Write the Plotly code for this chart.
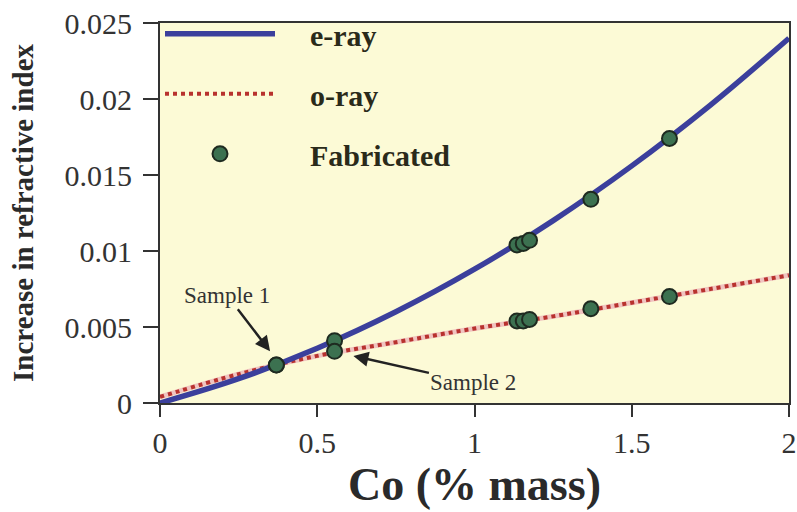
import plotly.graph_objects as go

# Data
curve_x = [0, 0.25, 0.5, 0.75, 1.0, 1.25, 1.5, 1.75, 2.0]
eray_y = [0, 0.0016, 0.0036, 0.0060, 0.0088, 0.0120, 0.0156, 0.0196, 0.0240]
oray_y = [0.0004, 0.0019, 0.0031, 0.0040, 0.0049, 0.0057, 0.0066, 0.0075, 0.0084]

fab_x = [0.37, 0.555, 1.135, 1.155, 1.175, 1.37, 1.62]
fab_e = [0.0025, 0.0041, 0.0104, 0.0105, 0.0107, 0.0134, 0.0174]
fab_o = [0.0025, 0.0034, 0.0054, 0.0054, 0.0055, 0.0062, 0.0070]

x_ticks = [0, 0.5, 1, 1.5, 2]
x_tick_labels = ["0", "0.5", "1", "1.5", "2"]
y_ticks = [0, 0.005, 0.01, 0.015, 0.02, 0.025]
y_tick_labels = ["0", "0.005", "0.01", "0.015", "0.02", "0.025"]

SERIF = "Liberation Serif"
PAD = "\u00a0\u00a0\u00a0\u00a0"

fig = go.Figure()

# o-ray background (light pink) for the hatched look
fig.add_trace(go.Scatter(x=curve_x, y=oray_y, mode="lines", line=dict(color="#f0c4c0", width=5, shape="spline"),
                         showlegend=False, hoverinfo="skip"))
fig.add_trace(go.Scatter(x=curve_x, y=oray_y, mode="lines", name=PAD + "o-ray",
                         line=dict(color="#b8322e", width=4, dash="dot", shape="spline"),
                         legendrank=2, legendgroup="o"))
fig.add_trace(go.Scatter(x=curve_x, y=eray_y, mode="lines", name=PAD + "e-ray",
                         line=dict(color="#3b3f9c", width=5.5, shape="spline"),
                         legendrank=1, legendgroup="e"))
fig.add_trace(go.Scatter(x=fab_x + fab_x, y=fab_e + fab_o, mode="markers", name=PAD + "Fabricated",
                         marker=dict(color="#3c7150", size=15, line=dict(color="#1e2a20", width=2)),
                         legendrank=3, legendgroup="f"))

fig.update_layout(
    width=797, height=512,
    margin=dict(l=160, r=8, t=16, b=109),
    paper_bgcolor="white",
    plot_bgcolor="#fcfad6",
    font=dict(family=SERIF, color="#333333"),
    legend=dict(x=0.0, y=1.04, xanchor="left", yanchor="top", bgcolor="rgba(0,0,0,0)",
                font=dict(family=SERIF, size=30, color="#2a2a1a", weight="bold"),
                itemwidth=110, tracegroupgap=18, traceorder="grouped"),
    xaxis=dict(range=[0, 2], tickvals=x_ticks, ticktext=x_tick_labels, showgrid=False, zeroline=False,
               ticks="outside", ticklen=12, tickwidth=2, tickcolor="#333", showline=True, linewidth=2,
               linecolor="#333", mirror=True, tickfont=dict(family=SERIF, size=30, color="#333"),
               automargin=False,
               title=dict(text="Co (% mass)", font=dict(family=SERIF, size=46, color="#2a2a2a", weight="bold"),
                          standoff=4)),
    yaxis=dict(range=[0, 0.025], tickvals=y_ticks, ticktext=y_tick_labels, showgrid=False, zeroline=False,
               ticks="outside", ticklen=15, tickwidth=2, tickcolor="#333", showline=True, linewidth=2,
               linecolor="#333", mirror=True, tickfont=dict(family=SERIF, size=30, color="#333"),
               ticklabelstandoff=5, automargin=False,
               title=dict(text="Increase in refractive index",
                          font=dict(family=SERIF, size=29, color="#2a2a2a", weight="bold"), standoff=22)),
    annotations=[
        dict(x=0.35, y=0.0034, xref="x", yref="y", text="Sample 1", showarrow=True, arrowhead=2,
             arrowsize=1.2, arrowwidth=2.5, arrowcolor="#222", ax=-43, ay=-56,
             font=dict(family=SERIF, size=23, color="#333")),
        dict(x=0.615, y=0.0031, xref="x", yref="y", text="Sample 2", showarrow=True, arrowhead=2,
             arrowsize=1.2, arrowwidth=2.5, arrowcolor="#222", ax=120, ay=27,
             font=dict(family=SERIF, size=23, color="#333")),
    ],
)

fig.write_html("out.html")
